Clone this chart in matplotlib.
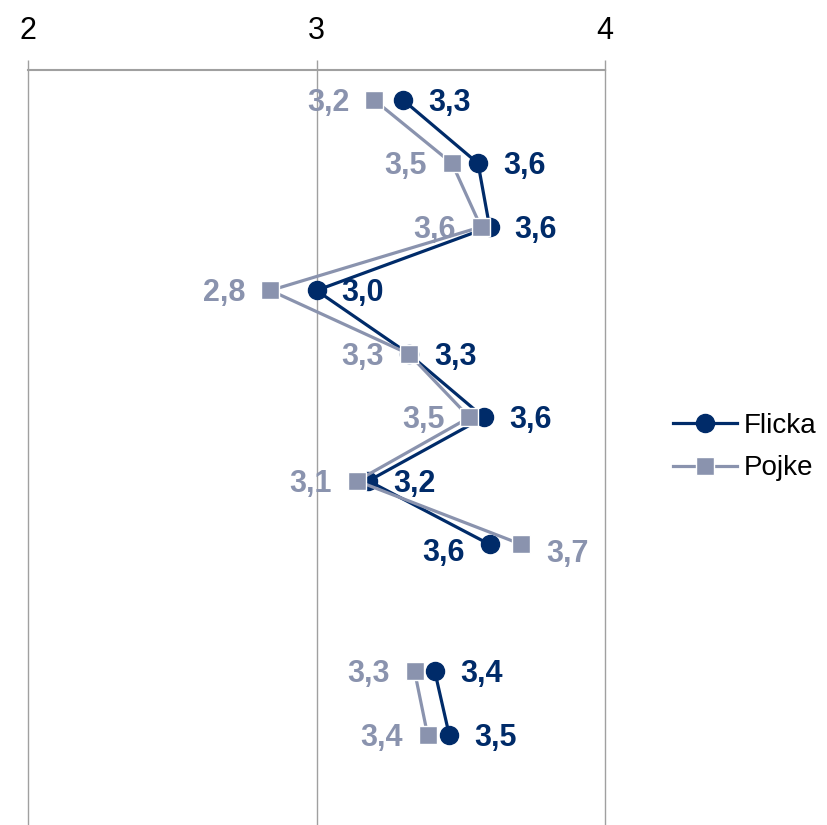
import numpy as np
import matplotlib
matplotlib.use("Agg")
import matplotlib.pyplot as plt

flicka = [3.30, 3.56, 3.60, 3.00, 3.32, 3.58, 3.18, 3.60, np.nan, 3.41, 3.46]
pojke = [3.20, 3.47, 3.57, 2.84, 3.32, 3.53, 3.14, 3.71, np.nan, 3.34, 3.385]
x_ticks = [2, 3, 4]

c_f = "#002B69"
c_p = "#8A93AE"
FONT = "Liberation Sans"

fig = plt.figure(figsize=(8.27, 8.25), dpi=100)
ax = fig.add_axes([28/827, 0.0, (605-28)/827, (825-70)/825])

rows = np.arange(len(flicka))
ax.plot(flicka, rows, color=c_f, lw=2.3, marker="o", ms=13, label="Flicka", zorder=3)
ax.plot(pojke, rows, color=c_p, lw=2.3, marker="s", ms=13.5, mec="white", mew=1.0,
        label="Pojke", zorder=4)

lab_kw = dict(textcoords="offset points", va="center", fontsize=22,
              fontweight="bold", family=FONT, zorder=5)
for i, (f, p) in enumerate(zip(flicka, pojke)):
    if np.isnan(f):
        continue
    lf = f"{f:.1f}".replace(".", ",")
    lp = f"{p:.1f}".replace(".", ",")
    if i == 7:
        ax.annotate(lf, (f, i), xytext=(-18, -6), ha="right", color=c_f, **lab_kw)
        ax.annotate(lp, (p, i), xytext=(18, -7), ha="left", color=c_p, **lab_kw)
    else:
        ax.annotate(lf, (f, i), xytext=(18, -2), ha="left", color=c_f, **lab_kw)
        ax.annotate(lp, (p, i), xytext=(-18, -2), ha="right", color=c_p, **lab_kw)

ax.set_xlim(2, 4)
ax.set_ylim(11.42, -0.472)
ax.set_xticks(x_ticks)
ax.set_xticklabels([str(t) for t in x_ticks], fontsize=22, family=FONT)
ax.xaxis.tick_top()
ax.tick_params(axis="x", direction="out", length=7, width=1, color="#A0A0A0", pad=10)
ax.set_yticks([])
ax.grid(axis="x", color="#A0A0A0", lw=1)
for gl in ax.xaxis.get_gridlines():
    gl.set_clip_on(False)
ax.set_axisbelow(True)
for s in ["left", "right", "bottom"]:
    ax.spines[s].set_visible(False)
ax.spines["top"].set_color("#A0A0A0")
ax.spines["top"].set_linewidth(1.5)

leg = fig.legend(loc="center left", bbox_to_anchor=(662/827, 1 - 447/825), frameon=False,
                 prop={"family": FONT, "size": 20}, handlelength=2.3,
                 handletextpad=0.25, labelspacing=0.6, borderaxespad=0)

fig.savefig("out.png", dpi=100)
